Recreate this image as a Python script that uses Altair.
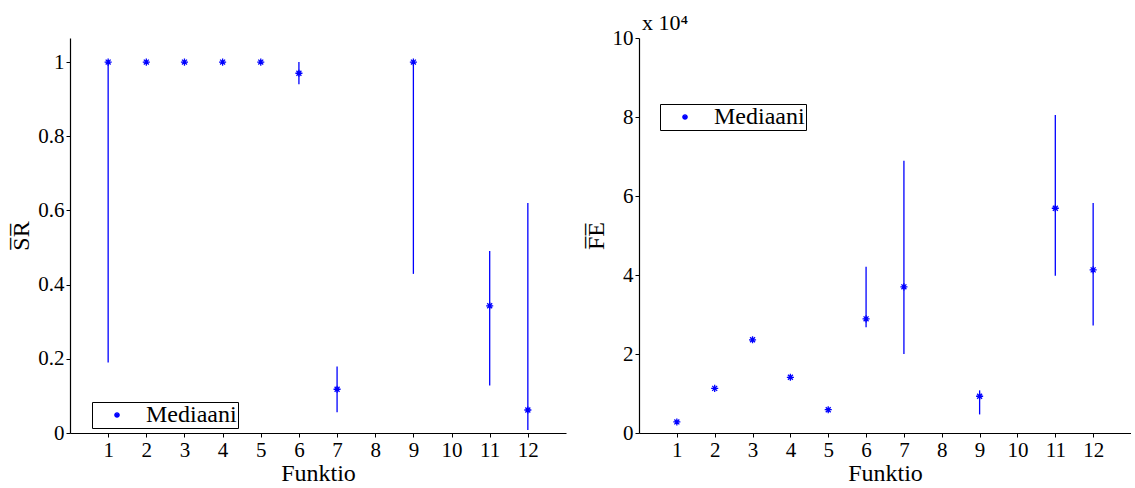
import altair as alt
import pandas as pd

funcs = [1, 2, 3, 4, 5, 6, 7, 9, 11, 12]
sr_med = [1, 1, 1, 1, 1, 0.97, 0.118, 1, 0.343, 0.062]
sr_low = [0.19, 1, 1, 1, 1, 0.94, 0.056, 0.429, 0.128, 0.008]
sr_high = [1, 1, 1, 1, 1, 1.0, 0.179, 1, 0.491, 0.62]
fe_med = [2800, 11300, 23600, 14100, 5900, 28900, 37000, 9300, 56900, 41300]
fe_low = [2800, 11300, 23600, 14100, 5900, 26800, 20000, 4700, 39800, 27200]
fe_high = [2800, 11300, 23600, 14100, 5900, 42100, 68900, 10800, 80500, 58200]
x_ticks = list(range(1, 13))
sr_ticks = [0, 0.2, 0.4, 0.6, 0.8, 1]
fe_ticks = [0, 20000, 40000, 60000, 80000, 100000]

df_sr = pd.DataFrame({"f": funcs, "med": sr_med, "lo": sr_low, "hi": sr_high, "s": "Mediaani"})
df_fe = pd.DataFrame({"f": funcs, "med": fe_med, "lo": fe_low, "hi": fe_high, "s": "Mediaani"})

FONT = "Liberation Serif"
BLUE = "#0000ff"
STAR = "M-1,0L1,0M0,-1L0,1M-0.7,-0.7L0.7,0.7M-0.7,0.7L0.7,-0.7"


def panel(df, ydom, yticks, ytitle, lx, ly, label_expr, w=496, title=None):
    xax = alt.X("f:Q", scale=alt.Scale(domain=[0, 13], nice=False), title="Funktio",
                axis=alt.Axis(values=x_ticks, format="d", grid=False, tickSize=4,
                              titlePadding=1, labelFont=FONT, titleFont=FONT,
                              labelFontSize=21, titleFontSize=24))
    yax = alt.Axis(values=yticks, grid=False, tickSize=4, titlePadding=4, labelExpr=label_expr,
                   labelFont=FONT, titleFont=FONT, labelFontSize=21, titleFontSize=24)
    rules = alt.Chart(df).mark_rule(color=BLUE, strokeWidth=1.3).encode(
        x="f:Q",
        y=alt.Y("lo:Q", scale=alt.Scale(domain=ydom, nice=False), title=ytitle, axis=yax),
        y2="hi:Q",
    )
    pts = alt.Chart(df).mark_point(shape=STAR, filled=False, size=50, strokeWidth=1.3, opacity=1).encode(
        x=xax,
        y=alt.Y("med:Q"),
        color=alt.Color("s:N", scale=alt.Scale(domain=["Mediaani"], range=[BLUE]),
                        legend=alt.Legend(title=None, orient="none", legendX=lx, legendY=ly,
                                          strokeColor="black", fillColor="white", padding=1,
                                          symbolOffset=12, symbolType=STAR, symbolSize=35,
                                          symbolStrokeWidth=1.3, symbolFillColor="transparent",
                                          labelFontSize=24, labelFont=FONT, labelOffset=17,
                                          labelColor="black")),
    )
    ch = alt.layer(rules, pts).properties(width=w, height=395)
    if title:
        ch = ch.properties(title=alt.TitleParams(title, anchor="start", frame="group", fontSize=22,
                                                 font=FONT, fontWeight="normal", offset=-8, dx=3))
    return ch


left = panel(df_sr, [0, 1.065], sr_ticks, "S\u0305R\u0305", 22, 364, "'' + datum.value")
right = panel(df_fe, [0, 100000], fe_ticks, "F\u0305E\u0305", 21, 66,
              "format(datum.value/10000, 'd')", w=492, title="x 10\u2074")

chart = alt.hconcat(left, right, spacing=18).resolve_scale(color="independent").resolve_legend(
    color="independent"
).properties(padding={"left": 9, "top": 12, "right": 0, "bottom": 0}).configure_axis(
    titleFontWeight="normal",
    domainColor="black", tickColor="black", labelColor="black", titleColor="black",
    domainWidth=1.2,
).configure_view(stroke=None)

chart.save("out.html", embed_options={"renderer": "svg", "actions": False})
